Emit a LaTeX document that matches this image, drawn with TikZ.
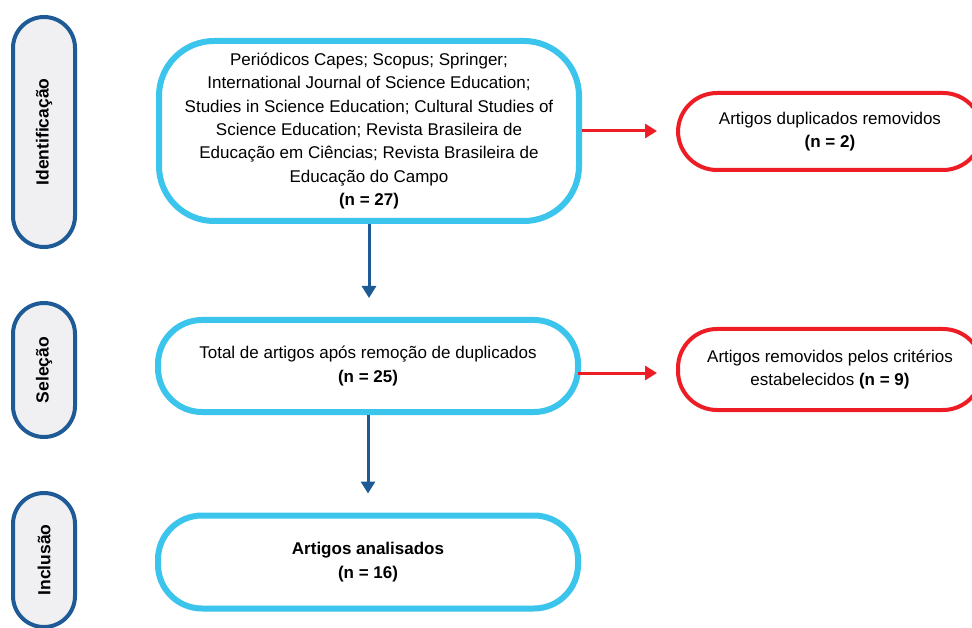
\documentclass[tikz,border=0pt]{standalone}
\usepackage{fontspec}
\setmainfont{Liberation Sans}
\usetikzlibrary{arrows.meta}
\definecolor{cyanb}{HTML}{3CC5EC}
\definecolor{redb}{HTML}{EE1C24}
\definecolor{navyb}{HTML}{1D5A96}
\definecolor{pillfill}{HTML}{F0F0F2}
\tikzset{
  pill/.style={draw=navyb, line width=4pt, fill=pillfill, rotate=90, minimum height=62pt,
    rounded corners=31pt, font=\fontsize{17.5}{20}\selectfont\bfseries, inner sep=0pt},
  mainbox/.style={draw=cyanb, line width=6pt, fill=white, minimum width=420pt, align=center,
    inner sep=0pt, font=\fontsize{17}{23.3}\selectfont},
  redbox/.style={draw=redb, line width=4pt, fill=white, minimum width=304pt, align=center,
    rounded corners=39pt, inner sep=0pt, font=\fontsize{17}{23.3}\selectfont},
  bluearrow/.style={draw=navyb, line width=3pt, -{Triangle[width=14pt,length=12pt]}},
  redarrow/.style={draw=redb, line width=3pt, -{Triangle[width=14pt,length=12pt]}}
}
\begin{document}
\begin{tikzpicture}[x=1pt,y=-1pt]
\useasboundingbox (0,0) rectangle (972,628);
\clip (0,0) rectangle (972,628);
\fill[white] (0,0) rectangle (972,628);
% left stage pills
\node[pill, minimum width=230pt] (p1) at (44,132) {Identificação};
\node[pill, minimum width=134pt] (p2) at (44,370) {Seleção};
\node[pill, minimum width=134pt] (p3) at (44,560) {Inclusão};
% main boxes
\node[mainbox, minimum height=180pt, rounded corners=55pt] (b1) at (369,131)
 {Periódicos Capes; Scopus; Springer;\\
  International Journal of Science Education;\\
  Studies in Science Education; Cultural Studies of\\
  Science Education; Revista Brasileira de\\
  Educação em Ciências; Revista Brasileira de\\
  Educação do Campo\\
  \textbf{(n = 27)}};
\node[mainbox, minimum height=92pt, rounded corners=44pt] (b2) at (368,366)
 {Total de artigos após remoção de duplicados\\\textbf{(n = 25)}};
\node[mainbox, minimum height=93pt, rounded corners=44pt] (b3) at (368,562)
 {\textbf{Artigos analisados}\\\textbf{(n = 16)}};
% red boxes
\node[redbox, minimum height=77pt] (r1) at (830,131.5)
 {Artigos duplicados removidos\\\textbf{(n = 2)}};
\node[redbox, minimum height=81pt] (r2) at (830,369.5)
 {Artigos removidos pelos critérios\\estabelecidos \textbf{(n = 9)}};
% connectors
\coordinate (e1) at (657,131);
\coordinate (s2) at (578,373);
\coordinate (e2) at (657,373);
\draw[redarrow] (b1.east) -- (e1);
\draw[redarrow] (s2) -- (e2);
\draw[bluearrow, shorten >=19pt] (b1.south) -- (b1.south |- b2.north);
\draw[bluearrow, shorten >=19pt] (b2.south) -- (b2.south |- b3.north);
\end{tikzpicture}
\end{document}
